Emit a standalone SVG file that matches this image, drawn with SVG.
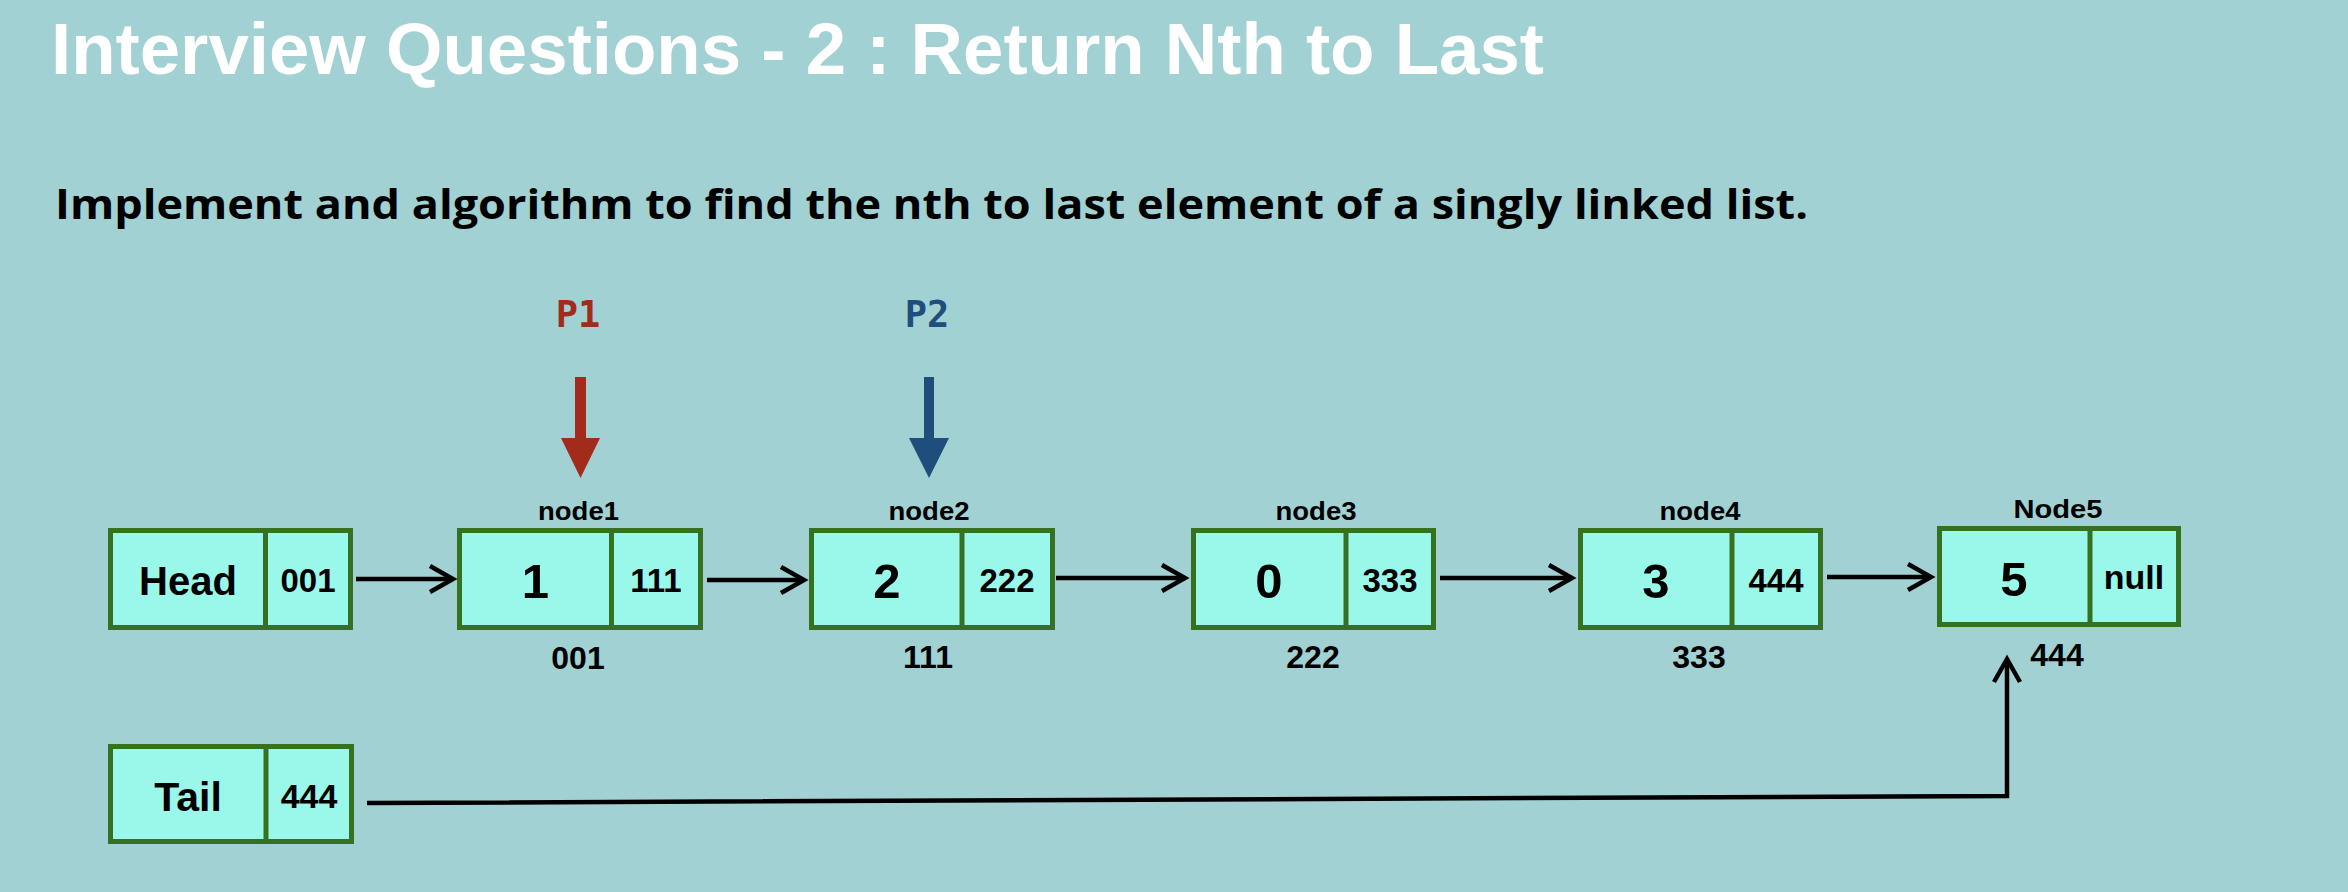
<svg xmlns="http://www.w3.org/2000/svg" width="2348" height="892" viewBox="0 0 2348 892">
<style>
.box{fill:#9AF8EA;stroke:#36711F;stroke-width:5}
.div{stroke:#36711F;stroke-width:5}
.t{font-family:"Liberation Sans",Arial,sans-serif;font-weight:bold;fill:#000;text-anchor:middle}
.big{font-size:49px}
.num{font-size:33px}
.lbl{font-size:26px}
.addr{font-size:32px}
.conn{fill:none;stroke:#000;stroke-width:4.5}
</style>
<defs>
<marker id="arr" markerUnits="userSpaceOnUse" markerWidth="40" markerHeight="40" viewBox="-30 -20 40 40" refX="0" refY="0" orient="auto">
<path d="M-23,-13 L0,0 L-23,13" fill="none" stroke="#000" stroke-width="4.5" stroke-linejoin="miter"/>
</marker>
</defs>
<rect x="0" y="0" width="2348" height="892" fill="#A1D1D3"/>
<text x="51" y="74" font-family="Liberation Sans,Arial,sans-serif" font-weight="bold" font-size="72" fill="#FFFFFF" textLength="1493" lengthAdjust="spacingAndGlyphs">Interview Questions - 2 : Return Nth to Last</text>
<text x="55" y="219" font-family="Open Sans,DejaVu Sans,sans-serif" font-weight="bold" font-size="42" fill="#000" textLength="1753" lengthAdjust="spacingAndGlyphs">Implement and algorithm to find the nth to last element of a singly linked list.</text>

<g id="p1">
<text x="578" y="327" font-family="DejaVu Sans Mono,monospace" font-weight="bold" font-size="37" fill="#A32B1B" text-anchor="middle">P1</text>
<polygon points="575,377 586,377 586,438 600,438 580.5,478 561,438 575,438" fill="#A32B1B"/>
</g>
<g id="p2">
<text x="927" y="327" font-family="DejaVu Sans Mono,monospace" font-weight="bold" font-size="37" fill="#1F4D7C" text-anchor="middle">P2</text>
<polygon points="924,377 934,377 934,438 949,438 929,478 909,438 924,438" fill="#1F4D7C"/>
</g>

<g id="head">
<rect class="box" x="110.5" y="530.5" width="240" height="97"/>
<line class="div" x1="265.5" y1="530.5" x2="265.5" y2="627.5"/>
<text class="t" x="188" y="595" font-size="40">Head</text>
<text class="t num" x="308" y="592">001</text>
</g>

<g id="node1">
<text class="t lbl" x="578.5" y="520" textLength="81" lengthAdjust="spacingAndGlyphs">node1</text>
<rect class="box" x="459.5" y="530.5" width="241" height="97"/>
<line class="div" x1="611.5" y1="530.5" x2="611.5" y2="627.5"/>
<text class="t big" x="535.5" y="598">1</text>
<text class="t num" x="656" y="592">111</text>
<text class="t addr" x="578" y="669">001</text>
</g>

<g id="node2">
<text class="t lbl" x="929" y="520" textLength="81" lengthAdjust="spacingAndGlyphs">node2</text>
<rect class="box" x="811.5" y="530.5" width="241" height="97"/>
<line class="div" x1="962" y1="530.5" x2="962" y2="627.5"/>
<text class="t big" x="887" y="598">2</text>
<text class="t num" x="1007" y="592">222</text>
<text class="t addr" x="928" y="668">111</text>
</g>

<g id="node3">
<text class="t lbl" x="1316" y="520" textLength="81" lengthAdjust="spacingAndGlyphs">node3</text>
<rect class="box" x="1193.5" y="530.5" width="240" height="97"/>
<line class="div" x1="1346" y1="530.5" x2="1346" y2="627.5"/>
<text class="t big" x="1269" y="598">0</text>
<text class="t num" x="1390" y="592">333</text>
<text class="t addr" x="1313" y="668">222</text>
</g>

<g id="node4">
<text class="t lbl" x="1700" y="520" textLength="81" lengthAdjust="spacingAndGlyphs">node4</text>
<rect class="box" x="1580.5" y="530.5" width="240" height="97"/>
<line class="div" x1="1732" y1="530.5" x2="1732" y2="627.5"/>
<text class="t big" x="1656" y="598">3</text>
<text class="t num" x="1776" y="592">444</text>
<text class="t addr" x="1699" y="668">333</text>
</g>

<g id="node5">
<text class="t lbl" x="2058" y="518" textLength="89" lengthAdjust="spacingAndGlyphs">Node5</text>
<rect class="box" x="1939.5" y="528.5" width="239" height="96"/>
<line class="div" x1="2090" y1="528.5" x2="2090" y2="624.5"/>
<text class="t big" x="2014" y="596">5</text>
<text class="t" x="2134" y="589" font-size="34">null</text>
<text class="t addr" x="2057" y="666">444</text>
</g>

<g id="tail">
<rect class="box" x="110.5" y="746.5" width="241" height="95"/>
<line class="div" x1="266" y1="746.5" x2="266" y2="841.5"/>
<text class="t" x="188" y="811" font-size="41">Tail</text>
<text class="t" x="309" y="808" font-size="34">444</text>
</g>

<g id="connectors">
<line class="conn" x1="356" y1="579" x2="453" y2="579" marker-end="url(#arr)"/>
<line class="conn" x1="707" y1="580" x2="804" y2="580" marker-end="url(#arr)"/>
<line class="conn" x1="1056" y1="578" x2="1185" y2="578" marker-end="url(#arr)"/>
<line class="conn" x1="1440" y1="578" x2="1572" y2="578" marker-end="url(#arr)"/>
<line class="conn" x1="1827" y1="577" x2="1931" y2="577" marker-end="url(#arr)"/>
<polyline class="conn" points="367,803 2007,796 2007,659" marker-end="url(#arr)"/>
</g>
</svg>
